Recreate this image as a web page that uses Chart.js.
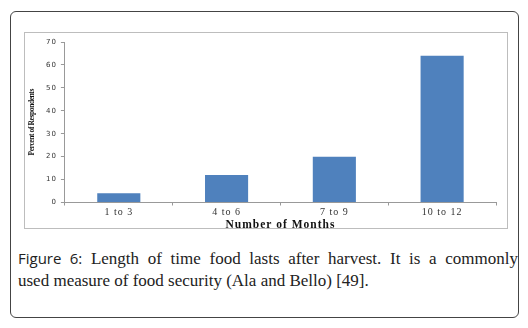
<!DOCTYPE html>
<html>
<head>
<meta charset="utf-8">
<script src="https://cdn.jsdelivr.net/npm/chart.js@4"></script>
<style>
  body { margin: 0; background: #fff; width: 528px; height: 328px; overflow: hidden; }
  #outer {
    position: absolute; left: 10px; top: 11px; width: 507px; height: 305px;
    border: 1px solid #444; border-radius: 6px;
  }
  #frame {
    position: absolute; left: 24px; top: 32px; width: 484px; height: 197px;
    border: 1px solid #bdbdbd; box-sizing: border-box;
  }
  #chart { position: absolute; left: 0; top: 0; }
  #caption {
    position: absolute; left: 18px; top: 247px; width: 500px;
    font-family: "Liberation Serif", serif; font-size: 17px; line-height: 22px;
    color: #222;
  }
  #caption .l1 { text-align: justify; text-align-last: justify; }
  #caption b { font-family: "Open Sans", sans-serif; font-weight: 400; font-size: 15px; }
</style>
</head>
<body>
<div id="outer"></div>
<div id="frame"><canvas id="chart" width="482" height="199"></canvas></div>
<div id="caption"><div class="l1"><b>Figure 6:</b> Length of time food lasts after harvest. It is a commonly</div><div>used measure of food security (Ala and Bello) [49].</div></div>
<script>
// categories and values
const months = ["1 to 3", "4 to 6", "7 to 9", "10 to 12"];
const percentRespondents = [4, 12, 20, 64];
const yTicks = [0, 10, 20, 30, 40, 50, 60, 70];

// canvas letter spacing for the axis texts (the original is spread out)
function spaceText(scale, labelSpacing, titleSpacing) {
    if (scale._spaced) return;
    scale._spaced = true;
    const drawLabels = scale.drawLabels.bind(scale);
    const drawTitle = scale.drawTitle.bind(scale);
    scale.drawLabels = (area) => {
        scale.ctx.letterSpacing = labelSpacing;
        drawLabels(area);
        scale.ctx.letterSpacing = '0px';
    };
    scale.drawTitle = () => {
        scale.ctx.letterSpacing = titleSpacing;
        drawTitle();
        scale.ctx.letterSpacing = '0px';
    };
}

const data = {
    labels: months,
    datasets: [{
        data: percentRespondents,
        backgroundColor: '#4f81bd',
        borderWidth: 0,
        categoryPercentage: 1,
        barPercentage: 0.4
    }]
};

const config = {
    type: 'bar',
    data: data,
    options: {
        responsive: false,
        animation: false,
        layout: { padding: { left: 3, right: 11, top: 9, bottom: 0 } },
        plugins: {
            legend: { display: false },
            tooltip: { enabled: false }
        },
        scales: {
            x: {
                afterFit: (scale) => spaceText(scale, '1px', '1px'),
                grid: {
                    display: true,
                    drawOnChartArea: false,
                    offset: true,
                    tickLength: 3,
                    color: '#999'
                },
                border: { color: '#999' },
                ticks: {
                    color: '#333',
                    font: { family: 'Liberation Serif', size: 10, lineHeight: 0.8 },
                    padding: 3
                },
                title: {
                    display: true,
                    text: 'Number of Months',
                    color: '#111',
                    font: { family: 'Liberation Serif', size: 11.5, weight: 'bold', lineHeight: 1 },
                    padding: { top: 0, bottom: 1 }
                }
            },
            y: {
                min: 0,
                max: 70,
                afterBuildTicks: (axis) => { axis.ticks = yTicks.map(v => ({ value: v })); },
                afterFit: (scale) => spaceText(scale, '1px', '-0.4px'),
                grid: {
                    display: true,
                    drawOnChartArea: false,
                    tickLength: 4,
                    color: '#999'
                },
                border: { color: '#999' },
                ticks: {
                    color: '#333',
                    font: { family: 'DejaVu Sans', size: 7 },
                    padding: 4
                },
                title: {
                    display: true,
                    text: 'Percent of Respondents',
                    color: '#111',
                    font: { family: 'Liberation Serif', size: 7.5, weight: 'bold' },
                    padding: { top: 0, bottom: 7 }
                }
            }
        }
    }
};

new Chart(document.getElementById('chart'), config);
</script>
</body>
</html>
